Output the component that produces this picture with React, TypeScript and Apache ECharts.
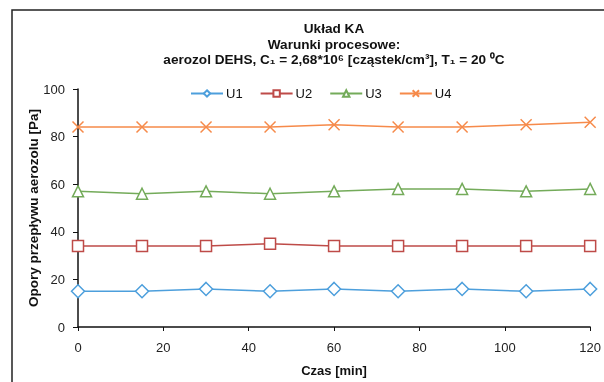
import React, { useEffect, useRef } from "react";
import * as echarts from "echarts";

const times = [0, 15, 30, 45, 60, 75, 90, 105, 120];
const u1 = [15, 15, 16, 15, 16, 15, 16, 15, 16];
const u2 = [34, 34, 34, 35, 34, 34, 34, 34, 34];
const u3 = [57, 56, 57, 56, 57, 58, 58, 57, 58];
const u4 = [84, 84, 84, 84, 85, 84, 84, 85, 86];
const seriesNames = ["U1", "U2", "U3", "U4"];
const titleLines = [
  "Układ KA",
  "Warunki procesowe:",
  "aerozol DEHS, C₁ = 2,68*10⁶ [cząstek/cm³], T₁ = 20 ⁰C",
];

const colors = ["#4d9fdc", "#be4b48", "#74ab5a", "#f68a4a"];
const symbols = [
  "diamond",
  "rect",
  "triangle",
  "path://M0,0L10,10M10,0L0,10",
];
const sizes = [13, 11, 11, 11];

export default function App() {
  const ref = useRef<HTMLDivElement>(null);
  useEffect(() => {
    if (!ref.current) return;
    const chart = echarts.init(ref.current, undefined, { renderer: "svg" });
    const datas = [u1, u2, u3, u4];
    const font = "'Liberation Sans', Arial, sans-serif";
    chart.setOption({
      animation: false,
      textStyle: { fontFamily: font },
      title: {
        text: titleLines.join("\n"),
        left: 329,
        textAlign: "center",
        top: 16,
        textStyle: {
          fontSize: 13.6,
          fontWeight: "bold",
          color: "#111",
          lineHeight: 15.5,
          fontFamily: font,
        },
      },
      legend: {
        top: 82,
        left: 185,
        itemWidth: 32,
        itemHeight: 8,
        itemGap: 17,
        data: seriesNames,
        textStyle: { fontSize: 13, color: "#111", fontFamily: font, padding: [0, 0, 0, -2] },
      },
      graphic: [
        {
          type: "rect",
          shape: { x: 12, y: 10, width: 800, height: 600 },
          style: { fill: "none", stroke: "#222", lineWidth: 1.5 },
          silent: true,
        },
      ],
      grid: { left: 78, right: 11, top: 89, bottom: 53 },
      xAxis: {
        type: "value",
        min: 0,
        max: 120,
        interval: 20,
        name: "Czas [min]",
        nameLocation: "middle",
        nameGap: 37,
        nameMoveOverlap: false,
        nameTextStyle: { fontSize: 13, fontWeight: "bold", color: "#111" },
        axisLine: { lineStyle: { color: "#111", width: 1.5 } },
        axisTick: { show: true, length: 4, lineStyle: { color: "#111" } },
        axisLabel: { fontSize: 13, color: "#222", margin: 14 },
        splitLine: { show: false },
      },
      yAxis: {
        type: "value",
        min: 0,
        max: 100,
        interval: 20,
        name: "Opory przepływu aerozolu [Pa]",
        nameLocation: "middle",
        nameGap: 38,
        nameMoveOverlap: false,
        nameTextStyle: { fontSize: 13.5, fontWeight: "bold", color: "#111" },
        axisLine: { show: true, lineStyle: { color: "#111", width: 1.5 } },
        axisTick: { show: true, length: 5, lineStyle: { color: "#111" } },
        axisLabel: { fontSize: 13, color: "#222", margin: 13 },
        splitLine: { show: false },
      },
      series: datas.map((d, i) => ({
        name: seriesNames[i],
        type: "line",
        data: d.map((v, j) => [times[j], v]),
        symbol: symbols[i],
        symbolSize: sizes[i],
        showAllSymbol: true,
        lineStyle: { color: colors[i], width: 1.5 },
        itemStyle: {
          color: i === 3 ? colors[i] : "#fff",
          borderColor: colors[i],
          borderWidth: 1.5,
        },
      })),
    });
    return () => chart.dispose();
  }, []);
  return (
    <div
      ref={ref}
      style={{ position: "fixed", left: 0, top: 0, width: 604, height: 382 }}
    />
  );
}
